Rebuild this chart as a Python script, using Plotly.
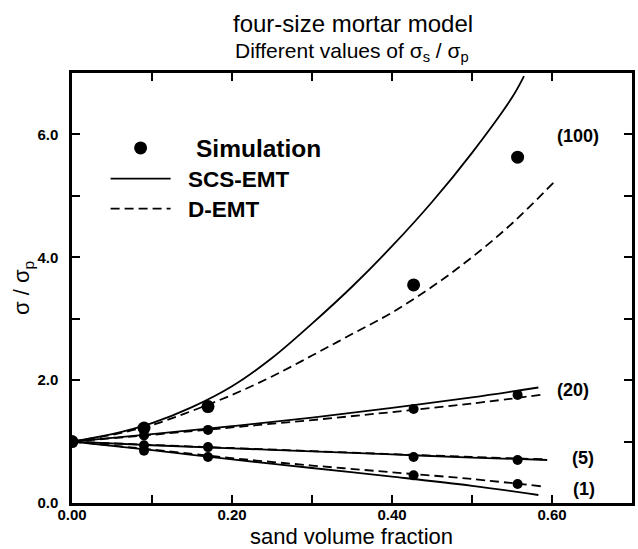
import plotly.graph_objects as go

# ---- data ----
sim_x = [0.09, 0.17, 0.427, 0.557]
sim_100 = [1.22, 1.57, 3.55, 5.63]
sim_20 = [1.10, 1.19, 1.53, 1.76]
sim_5 = [0.94, 0.91, 0.75, 0.70]
sim_1 = [0.85, 0.75, 0.45, 0.31]
origin_x = [0.0]
origin_y = [1.0]

scs_x_100 = [0, 0.05, 0.10, 0.15, 0.20, 0.25, 0.30, 0.35, 0.40, 0.45, 0.50, 0.55, 0.565]
scs_100 = [1.0, 1.12, 1.30, 1.56, 1.90, 2.36, 2.92, 3.52, 4.18, 4.90, 5.70, 6.60, 6.95]
demt_x_100 = [0, 0.05, 0.10, 0.15, 0.20, 0.25, 0.30, 0.35, 0.40, 0.45, 0.50, 0.55, 0.603]
demt_100 = [1.0, 1.11, 1.27, 1.50, 1.76, 2.06, 2.40, 2.75, 3.10, 3.52, 4.00, 4.55, 5.23]

scs_x_20 = [0, 0.1, 0.2, 0.3, 0.4, 0.5, 0.583]
scs_20 = [1.0, 1.12, 1.25, 1.39, 1.55, 1.72, 1.88]
demt_x_20 = [0, 0.1, 0.2, 0.3, 0.4, 0.5, 0.592]
demt_20 = [1.0, 1.11, 1.23, 1.35, 1.48, 1.62, 1.77]

scs_x_5 = [0, 0.1, 0.2, 0.3, 0.4, 0.5, 0.594]
scs_5 = [1.0, 0.94, 0.89, 0.84, 0.79, 0.74, 0.70]
demt_x_5 = [0, 0.1, 0.2, 0.3, 0.4, 0.5, 0.594]
demt_5 = [1.0, 0.945, 0.895, 0.845, 0.795, 0.75, 0.71]

scs_x_1 = [0, 0.1, 0.2, 0.3, 0.4, 0.5, 0.583]
scs_1 = [1.0, 0.86, 0.71, 0.57, 0.43, 0.28, 0.13]
demt_x_1 = [0, 0.1, 0.2, 0.3, 0.4, 0.5, 0.588]
demt_1 = [1.0, 0.87, 0.73, 0.61, 0.50, 0.39, 0.27]

ratio_labels = ["(100)", "(20)", "(5)", "(1)"]
ratio_label_x = [0.633, 0.626, 0.639, 0.640]
ratio_label_y = [5.97, 1.84, 0.73, 0.23]

x_tickvals = [0.0, 0.2, 0.4, 0.6]
y_tickvals = [0.0, 2.0, 4.0, 6.0]

FONT = "Liberation Sans, Arial, Helvetica, sans-serif"
NB = "\u00a0"

fig = go.Figure()

solid = dict(color="black", width=1.8)
dashed = dict(color="black", width=1.8, dash="9px,5px")

curves = [
    (scs_x_100, scs_100, demt_x_100, demt_100),
    (scs_x_20, scs_20, demt_x_20, demt_20),
    (scs_x_5, scs_5, demt_x_5, demt_5),
    (scs_x_1, scs_1, demt_x_1, demt_1),
]
for i, (sx, sy, dx, dy) in enumerate(curves):
    fig.add_trace(go.Scatter(x=sx, y=sy, mode="lines", line=solid, line_shape="spline",
                             name=NB * 2 + "SCS-EMT", legendgroup="scs", showlegend=(i == 0),
                             legend="legend2"))
    fig.add_trace(go.Scatter(x=dx, y=dy, mode="lines", line=dashed, line_shape="spline",
                             name=NB * 2 + "D-EMT", legendgroup="demt", showlegend=(i == 0),
                             legend="legend3"))

fig.add_trace(go.Scatter(x=sim_x, y=sim_100, mode="markers",
                         marker=dict(color="black", size=13),
                         name=NB * 3 + "Simulation", legendgroup="sim", showlegend=True,
                         legend="legend"))
for ys in (sim_20, sim_5, sim_1):
    fig.add_trace(go.Scatter(x=sim_x, y=ys, mode="markers",
                             marker=dict(color="black", size=10),
                             legendgroup="sim", showlegend=False))
fig.add_trace(go.Scatter(x=origin_x, y=origin_y, mode="markers",
                         marker=dict(color="black", size=13),
                         legendgroup="sim", showlegend=False))

for lab, lx, ly in zip(ratio_labels, ratio_label_x, ratio_label_y):
    fig.add_annotation(x=lx, y=ly, text=lab, showarrow=False, xref="x", yref="y",
                       xanchor="center", yanchor="middle",
                       font=dict(family=FONT, size=18, color="black", weight="bold"))

fig.add_annotation(x=0.502, y=1.114, xref="paper", yref="paper", text="four-size mortar model",
                   showarrow=False, xanchor="center", yanchor="middle",
                   font=dict(family=FONT, size=24, color="black"))
fig.add_annotation(x=0.5, y=1.049, xref="paper", yref="paper",
                   text="Different values of σ<sub>s</sub> / σ<sub>p</sub>",
                   showarrow=False, xanchor="center", yanchor="middle",
                   font=dict(family=FONT, size=21, color="black"))
# x-axis title
fig.add_annotation(x=0.499, y=-0.077, xref="paper", yref="paper",
                   text="sand volume fraction",
                   showarrow=False, xanchor="center", yanchor="middle",
                   font=dict(family=FONT, size=22, color="black"))

axis_common = dict(
    showline=True, linecolor="black", linewidth=2.5, mirror="allticks",
    ticks="inside", ticklen=8, tickwidth=1.5, tickcolor="black",
    showgrid=False, zeroline=False, automargin=False,
    tickfont=dict(family=FONT, size=15, color="black", weight="bold"),
)

fig.update_xaxes(range=[0, 0.7], tickvals=x_tickvals, tickformat=".2f",
                 ticklabelstandoff=-4,
                 minor=dict(dtick=0.1, ticks="inside", ticklen=8, tickwidth=1.5, tickcolor="black"),
                 **axis_common)
fig.update_yaxes(range=[0, 7], tickvals=y_tickvals, tickformat=".1f",
                 ticklabelstandoff=8,
                 minor=dict(dtick=1, ticks="inside", ticklen=8, tickwidth=1.5, tickcolor="black"),
                 title=dict(text="σ / σ<sub>p</sub>", font=dict(family=FONT, size=22, color="black"),
                            standoff=2),
                 **axis_common)

leg_common = dict(xanchor="left", yanchor="middle", bgcolor="rgba(0,0,0,0)", itemwidth=60,
                  tracegroupgap=0)
fig.update_layout(
    width=638, height=549,
    margin=dict(l=72, r=6, t=73, b=46),
    paper_bgcolor="white", plot_bgcolor="white",
    showlegend=True,
    legend=dict(x=0.06, y=0.8256, font=dict(family=FONT, size=24.5, color="black", weight="bold"),
                **leg_common),
    legend2=dict(x=0.06, y=0.7535, font=dict(family=FONT, size=22.5, color="black", weight="bold"),
                 **leg_common),
    legend3=dict(x=0.06, y=0.6837, font=dict(family=FONT, size=22.5, color="black", weight="bold"),
                 **leg_common),
)

fig.write_html("out.html")
